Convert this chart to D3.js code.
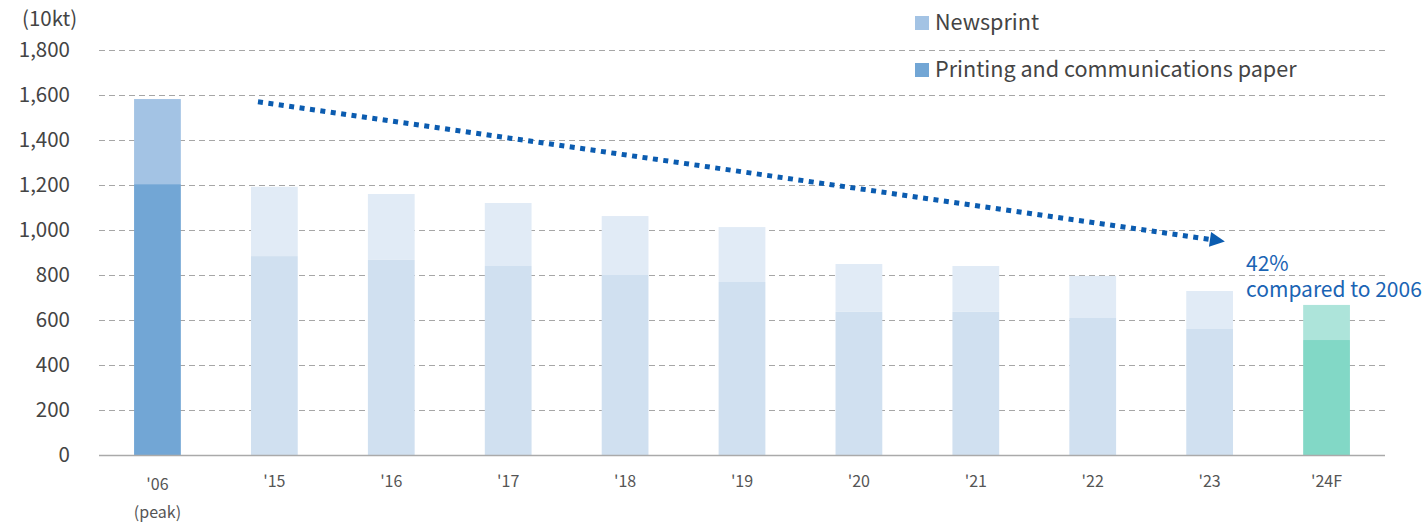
<!DOCTYPE html>
<html>
<head>
<meta charset="utf-8">
<script src="https://cdn.jsdelivr.net/npm/d3@7"></script>
<style>
  body { margin: 0; background: #fff; }
  text { font-family: "Noto Sans CJK JP", "Noto Sans", sans-serif; }
</style>
</head>
<body>
<svg id="chart"></svg>
<script>
// Paper demand, 10kt
const years = ["'06", "'15", "'16", "'17", "'18", "'19", "'20", "'21", "'22", "'23", "'24F"]
const printing = [1204, 884, 867, 840, 800, 769, 636, 636, 609, 560, 511]
const newsprint = [378, 308, 293, 280, 262, 244, 213, 204, 187, 169, 156]
const yTicks = [0, 200, 400, 600, 800, 1000, 1200, 1400, 1600, 1800]
const seriesNames = ["Newsprint", "Printing and communications paper"]
const note = ["42%", "compared to 2006"]

const width = 1427
const height = 524
const margin = { left: 99, right: 42, top: 50, bottom: 69 }

const svg = d3.select("#chart")
  .attr("width", width)
  .attr("height", height)

const x = d3.scaleBand()
  .domain(years)
  .range([margin.left, width - margin.right])
  .paddingInner(0.6)
  .paddingOuter(0.3)

const y = d3.scaleLinear()
  .domain([0, 1800])
  .range([height - margin.bottom, margin.top])

// colour per bar: peak year, ordinary years, forecast
function colours(i) {
  if (i === 0) return { news: "#a3c3e4", print: "#72a6d5" }
  if (i === years.length - 1) return { news: "#ade4da", print: "#82d8c6" }
  return { news: "#e1ebf6", print: "#d0e0f0" }
}

// gridlines
svg.append("g")
  .selectAll("line")
  .data(yTicks.filter(d => d > 0))
  .join("line")
    .attr("x1", margin.left)
    .attr("x2", width - margin.right)
    .attr("y1", d => y(d) + 0.5)
    .attr("y2", d => y(d) + 0.5)
    .attr("stroke", "#a6a6a6")
    .attr("stroke-width", 1.2)
    .attr("stroke-dasharray", "6 4")

const bars = years.map((yr, i) => ({ yr, i, p: printing[i], n: newsprint[i] }))

const g = svg.append("g")
g.selectAll("rect.print")
  .data(bars)
  .join("rect")
    .attr("class", "print")
    .attr("x", d => x(d.yr))
    .attr("width", x.bandwidth())
    .attr("y", d => y(d.p))
    .attr("height", d => y(0) - y(d.p))
    .attr("fill", d => colours(d.i).print)

g.selectAll("rect.news")
  .data(bars)
  .join("rect")
    .attr("class", "news")
    .attr("x", d => x(d.yr))
    .attr("width", x.bandwidth())
    .attr("y", d => y(d.p + d.n))
    .attr("height", d => y(d.p) - y(d.p + d.n))
    .attr("fill", d => colours(d.i).news)

// baseline
svg.append("line")
  .attr("x1", margin.left)
  .attr("x2", width - margin.right)
  .attr("y1", y(0) + 0.5)
  .attr("y2", y(0) + 0.5)
  .attr("stroke", "#aaaaaa")
  .attr("stroke-width", 1.5)

// y axis labels
svg.append("g")
  .call(d3.axisLeft(y).tickValues(yTicks).tickFormat(d3.format(",")).tickSize(0).tickPadding(0))
  .attr("transform", "translate(70,0)")
  .call(g => g.select(".domain").remove())
  .call(g => g.selectAll(".tick text")
    .attr("font-family", "'Noto Sans CJK JP', sans-serif")
    .attr("font-size", 20.5)
    .attr("fill", "#444"))

svg.append("text")
  .attr("x", 22)
  .attr("y", 26)
  .attr("font-size", 20.5)
  .attr("fill", "#444")
  .text("(10kt)")

// x axis labels
svg.append("g")
  .selectAll("text")
  .data(years)
  .join("text")
    .attr("x", d => x(d) + x.bandwidth() / 2)
    .attr("y", (d, i) => i === 0 ? 490 : 487)
    .attr("text-anchor", "middle")
    .attr("font-size", 16)
    .attr("fill", "#555")
    .text(d => d)

svg.append("text")
  .attr("x", x(years[0]) + x.bandwidth() / 2)
  .attr("y", 518)
  .attr("text-anchor", "middle")
  .attr("font-size", 16)
  .attr("fill", "#555")
  .text("(peak)")

// legend
const legend = svg.append("g")
  .selectAll("g")
  .data(seriesNames)
  .join("g")
    .attr("transform", (d, i) => `translate(915, ${16 + i * 47})`)
legend.append("rect")
  .attr("width", 14)
  .attr("height", 14)
  .attr("fill", (d, i) => i === 0 ? colours(0).news : colours(0).print)
legend.append("text")
  .attr("x", 20)
  .attr("y", 14)
  .attr("font-size", 21.6)
  .attr("fill", "#444")
  .text(d => d)

// trend arrow
const blue = "#0b5cb0"
svg.append("defs").append("marker")
  .attr("id", "head")
  .attr("viewBox", "0 0 10 10")
  .attr("refX", 0)
  .attr("refY", 5)
  .attr("markerWidth", 3.4)
  .attr("markerHeight", 3)
  .attr("orient", "auto")
  .attr("markerUnits", "strokeWidth")
  .append("path")
    .attr("d", "M0,0 L10,5 L0,10 Z")
    .attr("fill", blue)

const x0 = x("'15") + 7
const x1 = x("'23") + x.bandwidth() - 23
svg.append("line")
  .attr("x1", x0)
  .attr("y1", y(1570))
  .attr("x2", x1)
  .attr("y2", y(958))
  .attr("stroke", blue)
  .attr("stroke-width", 5)
  .attr("stroke-dasharray", "5 5.5")
  .attr("marker-end", "url(#head)")

// annotation as one text with two lines
svg.append("text")
  .attr("font-size", 21)
  .attr("fill", "#1a64b4")
  .selectAll("tspan")
  .data(note)
  .join("tspan")
    .attr("x", 1246)
    .attr("y", (d, i) => 271 + i * 26)
    .text(d => d)
</script>
</body>
</html>
